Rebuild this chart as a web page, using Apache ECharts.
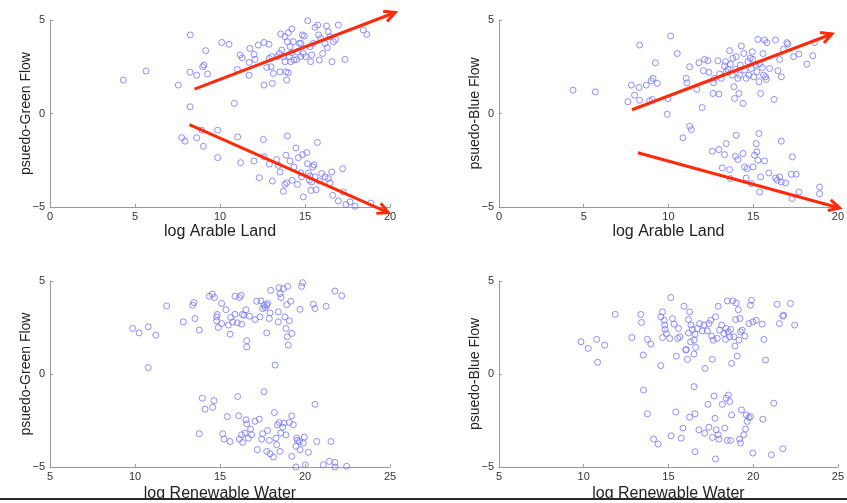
<!DOCTYPE html>
<html>
<head>
<meta charset="utf-8">
<script src="https://cdn.jsdelivr.net/npm/echarts@6/dist/echarts.min.js"></script>
<style>html,body{margin:0;padding:0;background:#fff;}#c{width:847px;height:503px;}</style>
</head>
<body>
<div id="c"></div>
<script>
// ---- Data ----
const xTicksArable = [0, 5, 10, 15, 20];
const xTicksWater = [5, 10, 15, 20, 25];
const yTicks = [-5, 0, 5];

const arableGreen = [
[4.31,1.79],[5.65,2.27],[7.55,1.52],[8.25,4.2],[8.24,2.21],[8.63,2.05],[8.24,0.36],[8.98,2.5],[9.06,2.59],[9.16,3.36],
[9.27,2.11],[10.1,3.8],[10.53,3.7],[10.84,0.54],[11.02,2.36],[11.18,3.13],[11.31,2.98],[11.71,2.05],[11.76,3.48],[11.71,2.73],
[12.0,3.16],[12.06,2.89],[12.25,3.66],[12.59,3.8],[12.59,1.52],[12.75,2.46],[12.88,3.7],[12.9,2.95],[13.04,3.04],[13.0,2.5],
[13.14,2.14],[13.08,1.61],[13.37,3.04],[13.49,3.21],[13.53,2.23],[13.57,4.25],[13.63,3.39],[13.73,3.04],[13.82,2.77],[13.82,4.11],
[13.88,2.23],[13.92,1.79],[13.96,3.84],[14.02,2.18],[14.02,4.32],[14.08,3.04],[14.12,3.57],[14.16,2.77],[14.22,4.52],[14.22,3.25],
[14.31,3.84],[14.35,2.86],[14.51,2.89],[14.55,3.3],[14.67,3.75],[14.75,3.04],[14.76,3.75],[14.84,4.2],[14.96,4.14],[14.9,3.21],
[15.04,3.04],[15.16,4.96],[15.29,3.57],[15.33,2.77],[15.39,3.13],[15.49,3.75],[15.59,4.61],[15.75,4.73],[15.8,4.2],[15.84,2.86],
[15.92,4.02],[16.04,3.21],[16.18,3.75],[16.27,4.68],[16.31,3.52],[16.37,4.38],[16.47,4.11],[16.59,2.77],[16.67,3.84],[16.8,3.96],
[16.96,4.73],[17.35,2.89],[18.43,4.46],[18.63,4.23],
[7.75,-1.29],[7.94,-1.48],[8.63,-1.3],[8.92,-0.89],[9.02,-1.75],[9.86,-0.89],[9.86,-2.36],[11.04,-1.25],[11.22,-2.63],[12.0,-2.54],
[12.31,-3.43],[12.55,-1.39],[12.59,-2.32],[12.9,-2.71],[13.08,-3.61],[13.33,-2.46],[13.43,-2.77],[13.53,-3.13],[13.73,-4.16],[13.82,-3.79],
[13.92,-3.7],[13.88,-2.23],[13.96,-1.2],[14.12,-2.54],[14.25,-3.57],[14.35,-2.86],[14.47,-1.84],[14.55,-3.79],[14.61,-2.36],[14.75,-3.18],
[14.8,-3.39],[14.86,-2.2],[14.9,-4.46],[15.1,-2.09],[15.14,-2.68],[15.2,-3.18],[15.25,-3.57],[15.29,-3.34],[15.35,-4.11],[15.39,-3.66],
[15.45,-2.86],[15.53,-2.75],[15.59,-3.39],[15.65,-4.07],[15.73,-1.55],[15.84,-3.61],[15.98,-3.21],[16.18,-3.39],[16.37,-3.48],[16.47,-3.71],
[16.57,-3.13],[16.63,-4.38],[16.96,-4.68],[17.22,-2.95],[17.25,-4.2],[17.41,-4.86],[17.65,-4.73],[17.94,-4.96],[18.86,-4.79]
];

const arableBlue = [
[4.37,1.25],[5.68,1.16],[7.61,0.63],[7.81,1.52],[8.0,0.98],[8.26,1.39],[8.3,3.66],[8.3,0.71],[8.69,1.52],[8.89,0.68],
[8.99,1.75],[9.05,0.75],[9.09,1.88],[9.23,2.71],[9.34,1.61],[9.93,-0.04],[9.97,0.8],[10.13,4.14],[10.52,3.21],[11.05,1.88],
[11.09,1.64],[11.25,2.5],[11.68,1.29],[11.8,2.71],[11.99,0.32],[12.07,2.29],[12.13,2.89],[12.33,2.82],[12.39,2.2],[12.63,1.07],
[12.66,1.64],[12.72,1.88],[12.92,2.82],[12.98,1.04],[13.02,2.11],[13.12,1.88],[13.31,2.54],[13.37,2.77],[13.41,2.23],[13.51,2.36],
[13.61,3.36],[13.65,2.64],[13.77,2.05],[13.8,2.95],[13.86,1.43],[13.9,0.8],[13.96,2.36],[14.0,3.04],[14.1,1.88],[14.16,1.07],
[14.2,2.05],[14.24,2.59],[14.3,3.61],[14.4,0.54],[14.45,3.21],[14.49,2.32],[14.59,1.88],[14.69,2.77],[14.75,2.05],[14.83,2.95],
[14.89,2.41],[14.95,3.3],[14.99,2.89],[15.03,1.96],[15.14,2.59],[15.22,2.23],[15.28,3.96],[15.34,1.7],[15.38,2.64],[15.44,1.07],
[15.54,2.46],[15.58,3.21],[15.61,2.05],[15.67,3.93],[15.73,1.96],[15.77,1.82],[15.81,3.79],[15.97,2.41],[16.23,0.75],[16.32,3.93],
[16.46,2.29],[16.56,2.89],[16.66,1.96],[16.79,3.43],[16.99,3.79],[17.05,3.71],[17.38,3.04],[17.7,3.18],[18.17,2.64],[18.52,3.09],
[18.62,3.79],
[10.86,-1.3],[11.25,-0.68],[11.35,-0.86],[12.59,-2.02],[12.98,-1.93],[13.18,-2.91],[13.31,-2.2],[13.41,-1.61],[13.61,-3.0],[13.65,-3.48],
[13.96,-2.29],[14.0,-1.16],[14.1,-2.46],[14.4,-2.14],[14.49,-2.86],[14.59,-3.45],[14.65,-2.95],[14.89,-3.75],[14.99,-2.86],[15.08,-2.23],
[15.18,-1.61],[15.22,-2.05],[15.28,-2.5],[15.34,-1.07],[15.38,-4.2],[15.44,-3.39],[15.67,-2.54],[15.93,-3.18],[16.32,-3.45],[16.42,-3.57],
[16.56,-3.39],[16.66,-1.48],[16.66,-3.66],[16.91,-3.71],[17.31,-2.32],[17.25,-3.25],[17.54,-3.25],[17.7,-4.2],[17.29,-4.55],[18.92,-3.93],
[18.92,-4.29]
];

const waterGreen = [
[9.86,2.45],[10.24,2.21],[10.78,2.54],[10.78,0.34],[11.22,2.09],[11.86,3.66],[12.84,2.8],[13.39,3.7],[13.47,3.84],[13.53,2.98],
[13.78,2.36],[14.37,4.18],[14.55,4.29],[14.67,4.11],[14.8,3.07],[14.8,2.86],[14.84,3.2],[14.9,2.5],[15.1,3.79],[15.1,2.71],
[15.35,3.46],[15.49,2.63],[15.59,2.14],[15.63,3.04],[15.75,2.8],[15.88,4.18],[15.88,3.21],[16.02,2.75],[16.14,4.11],[16.24,4.23],
[16.27,2.68],[16.31,3.2],[16.41,3.16],[16.53,3.46],[16.57,1.79],[16.57,1.46],[16.73,3.11],[17.06,2.93],[17.16,3.91],[17.35,3.07],
[17.41,3.93],[17.51,3.52],[17.59,3.7],[17.65,3.57],[17.75,3.7],[17.75,2.21],[17.8,3.79],[17.9,2.98],[17.94,3.29],[17.98,4.5],
[18.24,0.48],[18.43,3.34],[18.43,2.8],[18.47,4.64],[18.53,4.32],[18.59,4.11],[18.73,4.59],[18.82,3.07],[18.88,2.45],[18.92,3.73],
[18.96,2.0],[18.98,4.71],[19.02,1.55],[19.08,2.86],[19.16,3.91],[19.22,2.18],[19.71,3.48],[19.8,4.71],[19.86,4.91],[20.49,3.75],
[20.59,3.52],[21.24,3.64],[21.76,4.46],[22.16,4.21],
[13.96,-1.3],[14.12,-1.89],[14.57,-1.79],[14.65,-1.43],[13.78,-3.21],[15.16,-3.21],[15.24,-3.5],[15.43,-2.29],[15.59,-3.63],[16.04,-1.21],
[16.1,-2.25],[16.14,-3.5],[16.27,-3.27],[16.33,-3.68],[16.47,-3.18],[16.53,-2.46],[16.57,-2.68],[16.67,-3.45],[16.8,-2.96],[16.86,-3.27],
[17.06,-2.54],[17.2,-4.07],[17.31,-2.43],[17.45,-3.5],[17.51,-3.21],[17.59,-0.95],[17.8,-3.04],[17.75,-4.16],[17.9,-3.57],[17.94,-4.29],
[18.14,-4.46],[18.2,-2.07],[18.29,-3.45],[18.33,-3.8],[18.37,-2.73],[18.49,-2.61],[18.53,-4.16],[18.57,-3.18],[18.69,-2.86],[18.76,-2.64],
[18.88,-3.27],[19.08,-2.61],[19.22,-2.25],[19.22,-4.43],[19.31,-2.73],[19.47,-3.89],[19.51,-3.45],[19.55,-3.57],[19.67,-3.63],[19.71,-4.07],
[19.9,-3.71],[19.96,-3.39],[20.02,-4.88],[19.47,-5.0],[20.2,-4.21],[20.59,-1.63],[20.69,-3.63],[21.08,-4.88],[21.43,-4.7],[21.53,-3.63],
[21.76,-4.75],[21.76,-5.0],[22.45,-4.96]
];

const waterBlue = [
[9.84,1.73],[10.27,1.38],[10.76,1.86],[10.82,0.63],[11.24,1.55],[11.86,3.21],[12.84,1.96],[13.37,3.2],[13.41,2.77],[13.51,1.02],
[13.76,1.86],[13.96,1.61],[14.55,0.45],[14.55,3.07],[14.65,3.34],[14.65,1.96],[14.75,2.89],[14.78,2.63],[14.8,2.39],[14.88,2.18],
[15.08,1.91],[15.14,4.11],[15.24,2.98],[15.33,2.68],[15.47,0.96],[15.55,1.91],[15.59,2.45],[15.67,2.0],[15.92,3.64],[16.02,1.29],
[16.06,1.32],[16.12,0.79],[16.18,2.21],[16.18,2.93],[16.25,3.34],[16.31,1.73],[16.33,2.63],[16.41,2.39],[16.51,1.07],[16.51,1.82],
[16.57,2.14],[16.61,1.43],[16.71,2.45],[16.84,2.71],[17.0,2.32],[17.1,2.63],[17.16,0.3],[17.29,2.32],[17.39,2.71],[17.49,2.89],
[17.55,2.04],[17.59,0.79],[17.65,1.82],[17.78,3.07],[17.88,1.91],[17.94,3.64],[18.02,2.36],[18.14,2.63],[18.27,2.18],[18.37,1.86],
[18.41,2.45],[18.47,3.93],[18.53,2.27],[18.61,2.0],[18.67,2.39],[18.73,0.57],[18.8,3.93],[18.86,2.0],[18.92,1.5],[18.96,2.93],
[19.0,3.82],[19.06,0.96],[19.12,3.46],[19.16,1.82],[19.22,2.98],[19.25,2.27],[19.35,2.36],[19.51,2.04],[19.75,2.71],[19.84,3.7],
[19.9,3.96],[19.98,2.8],[20.18,2.89],[20.53,2.68],[20.63,1.86],[20.73,0.75],[21.41,3.75],[21.55,2.71],[21.75,3.11],[21.8,3.16],
[22.2,3.79],[22.45,2.63],
[13.53,-0.86],[13.76,-2.14],[14.12,-3.5],[14.39,-3.77],[15.16,-3.32],[15.43,-2.04],[15.75,-3.45],[15.86,-2.91],[16.25,-2.32],[16.51,-0.68],
[16.57,-2.14],[16.57,-4.18],[16.8,-3.0],[17.14,-3.18],[17.33,-1.63],[17.39,-2.86],[17.59,-3.41],[17.69,-1.18],[17.75,-2.38],[17.78,-4.57],
[17.82,-3.0],[17.94,-3.27],[17.98,-3.5],[18.18,-1.63],[18.33,-2.91],[18.41,-1.3],[18.47,-3.57],[18.53,-1.13],[18.61,-1.48],[18.67,-3.57],
[18.73,-2.2],[19.2,-3.5],[19.25,-3.71],[19.31,-1.93],[19.45,-3.27],[19.55,-2.96],[19.59,-2.2],[19.65,-2.55],[19.75,-2.34],[19.84,-2.29],
[19.98,-4.25],[20.57,-2.43],[21.08,-4.34],[21.22,-1.57],[21.75,-4.02]
];

// trend arrows [x0, y0, x1, y1] in data units
const arrowsGreen = [[8.5, 1.3, 20.3, 5.4], [8.2, -0.6, 19.9, -5.3]];
const arrowsBlue = [[7.85, 0.2, 19.65, 4.25], [8.2, -2.1, 20.1, -5.05]];

const xNames = ['log Arable Land', 'log Arable Land', 'log Renewable Water', 'log Renewable Water'];
const yNames = ['psuedo-Green Flow', 'psuedo-Blue Flow', 'psuedo-Green Flow', 'psuedo-Blue Flow'];

// ---- Chart ----
const FONT = 'Liberation Sans, Arial, Helvetica, sans-serif';
const chart = echarts.init(document.getElementById('c'), null, {renderer: 'canvas'});
const fmt = v => (v < 0 ? '\u2212' + Math.abs(v) : String(v));

const grids = [
  {left: 50, top: 20, width: 340, height: 187},
  {left: 499, top: 20, width: 339, height: 187},
  {left: 50, top: 281, width: 340, height: 186},
  {left: 499, top: 281, width: 341, height: 186}
];
const xRanges = [xTicksArable, xTicksArable, xTicksWater, xTicksWater];
const xNameGaps = [17, 17, 19, 19];
const axisLineStyle = {color: '#9a9a9a', width: 1};

const xAxes = grids.map((g, i) => ({
  type: 'value', gridIndex: i,
  min: xRanges[i][0], max: xRanges[i][xRanges[i].length - 1], interval: 5,
  name: xNames[i], nameLocation: 'middle', nameGap: xNameGaps[i], nameMoveOverlap: false,
  nameTextStyle: {fontFamily: FONT, fontSize: 16, color: '#222', verticalAlign: 'top'},
  axisLine: {show: true, onZero: false, lineStyle: axisLineStyle},
  axisTick: {show: true, inside: true, length: 3, lineStyle: axisLineStyle},
  axisLabel: {fontFamily: FONT, fontSize: 11, color: '#333', margin: 4, formatter: fmt, showMinLabel: true, showMaxLabel: true},
  splitLine: {show: false}
}));
const yAxes = grids.map((g, i) => ({
  type: 'value', gridIndex: i,
  min: yTicks[0], max: yTicks[yTicks.length - 1], interval: 5,
  name: yNames[i], nameLocation: 'middle', nameGap: 17, nameRotate: 90, nameMoveOverlap: false,
  nameTextStyle: {fontFamily: FONT, fontSize: 14, color: '#222'},
  axisLine: {show: true, onZero: false, lineStyle: axisLineStyle},
  axisTick: {show: true, inside: true, length: 3, lineStyle: axisLineStyle},
  axisLabel: {fontFamily: FONT, fontSize: 11, color: '#333', margin: 5, formatter: fmt, showMinLabel: true, showMaxLabel: true},
  splitLine: {show: false}
}));

const datasets = [arableGreen, arableBlue, waterGreen, waterBlue];
const arrowSets = [arrowsGreen, arrowsBlue];
const RED = '#ff2a0a';

function renderArrow(params, api) {
  const p0 = api.coord([api.value(0), api.value(1)]);
  const p1 = api.coord([api.value(2), api.value(3)]);
  const ang = Math.atan2(p1[1] - p0[1], p1[0] - p0[0]);
  const L = 12, spread = 0.48;
  const h1 = [p1[0] - L * Math.cos(ang - spread), p1[1] - L * Math.sin(ang - spread)];
  const h2 = [p1[0] - L * Math.cos(ang + spread), p1[1] - L * Math.sin(ang + spread)];
  return {
    type: 'group',
    children: [
      {type: 'line', shape: {x1: p0[0], y1: p0[1], x2: p1[0], y2: p1[1]},
       style: {stroke: RED, lineWidth: 3, lineCap: 'butt'}},
      {type: 'polyline', shape: {points: [h1, p1, h2]},
       style: {stroke: RED, lineWidth: 3, fill: null, lineJoin: 'miter'}}
    ]
  };
}

const series = datasets.map((d, i) => ({
  type: 'scatter', xAxisIndex: i, yAxisIndex: i, data: d,
  symbol: 'circle', symbolSize: 6, clip: false, silent: true,
  itemStyle: {color: 'rgba(0,0,0,0)', borderColor: '#7373ff', borderWidth: 1}
}));
arrowSets.forEach((arr, i) => {
  series.push({
    type: 'custom', xAxisIndex: i, yAxisIndex: i, data: arr,
    encode: {x: [0, 2], y: [1, 3]}, clip: false, silent: true, z: 5,
    renderItem: renderArrow
  });
});

chart.setOption({
  animation: false,
  backgroundColor: '#fff',
  grid: grids.map(g => Object.assign({containLabel: false}, g)),
  xAxis: xAxes,
  yAxis: yAxes,
  series: series,
  graphic: [
    {type: 'rect', z: 100, shape: {x: 0, y: 500, width: 847, height: 3}, style: {fill: '#fff'}},
    {type: 'rect', z: 101, shape: {x: 0, y: 498, width: 847, height: 2}, style: {fill: '#2a2a2a'}}
  ]
});
</script>
</body>
</html>
